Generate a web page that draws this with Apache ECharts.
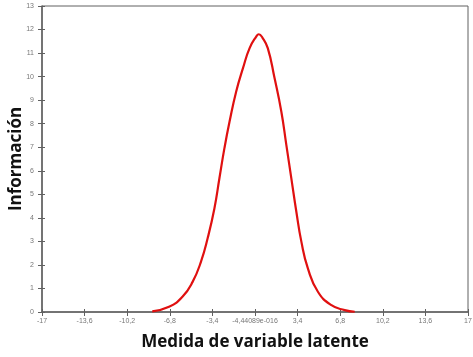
<!DOCTYPE html>
<html>
<head>
<meta charset="utf-8">
<script src="https://cdn.jsdelivr.net/npm/echarts@6/dist/echarts.min.js"></script>
<style>html,body{margin:0;padding:0;background:#fff;}#c{width:473px;height:357px;}</style>
</head>
<body>
<div id="c"></div>
<script>
const xTickLabels = ["-17","-13,6","-10,2","-6,8","-3,4","-4,44089e-016","3,4","6,8","10,2","13,6","17"];
const curveX = [-8.2, -6.86, -5.79, -4.98, -4.31, -3.78, -3.24, -2.84, -2.44, -2.03, -1.5, -0.96, -0.43, 0.11, 0.3, 0.6, 1.02, 1.56, 2.1, 2.5, 2.9, 3.3, 3.7, 4.22, 5.02, 6.1, 7.16, 7.96];
const curveY = [0.03, 0.22, 0.65, 1.28, 2.14, 3.13, 4.4, 5.68, 6.96, 8.09, 9.37, 10.36, 11.21, 11.71, 11.8, 11.65, 11.21, 9.94, 8.52, 7.1, 5.68, 4.26, 2.99, 1.85, 0.86, 0.29, 0.08, 0.01];

const data = curveX.map((x, i) => [x, curveY[i]]);
const axisColor = '#606060';
const labelStyle = {color: '#777', fontSize: 7, fontFamily: 'Liberation Sans'};
const chart = echarts.init(document.getElementById('c'), null, {renderer: 'canvas'});
chart.setOption({
  animation: false,
  grid: {left: 42, right: 5, top: 6, bottom: 45, containLabel: false, outerBoundsMode: 'none', show: true, borderColor: axisColor, borderWidth: 1, backgroundColor: 'transparent'},
  xAxis: [{
    type: 'value', min: -17, max: 17, interval: 3.4,
    name: 'Medida de variable latente', nameLocation: 'middle', nameGap: 22,
    nameTextStyle: {fontFamily: 'Open Sans', fontWeight: 'bold', fontSize: 17, color: '#111'},
    axisLine: {show: true, onZero: false, lineStyle: {color: axisColor, width: 1.5}},
    axisTick: {show: true, length: 4, lineStyle: {color: axisColor}},
    splitLine: {show: false},
    axisLabel: Object.assign({margin: 6, formatter: v => xTickLabels[Math.round((v + 17) / 3.4)]}, labelStyle)
  }, {
    type: 'value', min: -17, max: 17, interval: 3.4, position: 'bottom',
    axisLine: {show: false, onZero: false}, axisTick: {show: true, inside: true, length: 3, lineStyle: {color: axisColor}},
    axisLabel: {show: false}, splitLine: {show: false}
  }],
  yAxis: [{
    type: 'value', min: 0, max: 13, interval: 1,
    name: 'Información', nameLocation: 'middle', nameGap: 17, nameMoveOverlap: false,
    nameTextStyle: {fontFamily: 'Open Sans', fontWeight: 'bold', fontSize: 17, color: '#111'},
    axisLine: {show: true, onZero: false, lineStyle: {color: axisColor, width: 1.5}},
    axisTick: {show: true, length: 4, lineStyle: {color: axisColor}},
    splitLine: {show: false},
    axisLabel: Object.assign({margin: 8}, labelStyle)
  }, {
    type: 'value', min: 0, max: 13, interval: 1, position: 'left',
    axisLine: {show: false, onZero: false}, axisTick: {show: true, inside: true, length: 3, lineStyle: {color: axisColor}},
    axisLabel: {show: false}, splitLine: {show: false}
  }],
  series: [{
    type: 'line', data: data, smooth: true, showSymbol: false, symbol: 'none',
    lineStyle: {color: '#e01010', width: 2.2}, xAxisIndex: 0, yAxisIndex: 0
  }]
});
</script>
</body>
</html>
